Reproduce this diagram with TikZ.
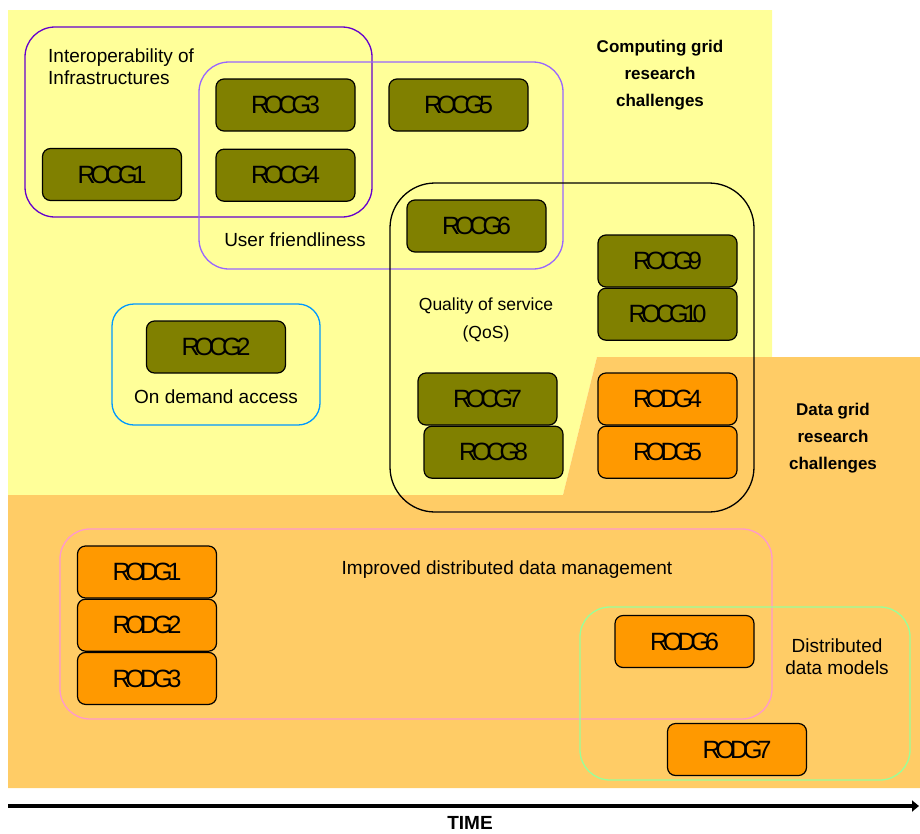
\documentclass[tikz,border=0pt]{standalone}
\usepackage{fontspec}
\setmainfont{Liberation Sans}
\newfontfamily\boxfont[LetterSpace=-20]{Liberation Sans}
\usepackage{tikz}
\usetikzlibrary{positioning, arrows.meta}
\definecolor{rcYellow}{HTML}{FFFF99}
\definecolor{rcOrange}{HTML}{FFCC66}
\definecolor{rcOlive}{HTML}{808000}
\definecolor{rcAmber}{HTML}{FF9900}
\definecolor{rcPurple}{HTML}{6600CC}
\definecolor{rcViolet}{HTML}{9966FF}
\definecolor{rcSky}{HTML}{0099FF}
\definecolor{rcPink}{HTML}{FF99CC}
\definecolor{rcMint}{HTML}{99FF99}
\tikzset{
    base/.style={
        align=center,
        inner sep=0pt
    },
    challenge/.style={
        base,
        rectangle,
        rounded corners=8pt,
        draw=black,
        line width=1.2pt,
        minimum width=139pt,
        minimum height=52pt,
        font=\boxfont\fontsize{25}{30}\selectfont
    },
    cgbox/.style={
        challenge,
        fill=rcOlive
    },
    dgbox/.style={
        challenge,
        fill=rcAmber
    },
    area/.style={
        line width=1.3pt
    },
    theme/.style={
        base,
        font=\fontsize{19}{22}\selectfont
    },
    heading/.style={
        base,
        font=\bfseries\fontsize{17}{27}\selectfont
    },
    timeline/.style={
        line width=4pt,
        -{Triangle[length=7pt, width=11pt]}
    }
}
\begin{document}
\begin{tikzpicture}[x=1pt, y=-1pt]
  \useasboundingbox (0,0) rectangle (920,833);

  % Computing grid area
  \fill[rcYellow] (8,10) -- (772,10) -- (772,357) -- (597,357) -- (563,495) -- (8,495) -- cycle;
  % Data grid area
  \fill[rcOrange] (8,495) -- (563,495) -- (597,357) -- (920,357) -- (920,788) -- (8,788) -- cycle;

  % Research themes
  \draw[area, draw=rcPurple, rounded corners=30pt] (25,27) rectangle (372,217);
  \draw[area, draw=rcViolet, rounded corners=30pt] (199,62) rectangle (563,269);
  \draw[area, draw=black, rounded corners=45pt] (390,183) rectangle (754,512);
  \draw[area, draw=rcSky, rounded corners=22pt] (112,304) rectangle (320,425);
  \draw[area, draw=rcPink, rounded corners=30pt] (60,529) rectangle (772,719);
  \draw[area, draw=rcMint, rounded corners=30pt] (580,607) rectangle (910,780);

  % Computing grid challenges
  \node[cgbox] (rocg1) at (112,174.5) {ROCG1};
  \node[cgbox] (rocg2) at (216,347) {ROCG2};
  \node[cgbox] (rocg3) at (285.5,105) {ROCG3};
  \node[cgbox, below=17pt of rocg3] (rocg4) {ROCG4};
  \node[cgbox] (rocg5) at (458.5,105) {ROCG5};
  \node[cgbox] (rocg6) at (476.5,226) {ROCG6};
  \node[cgbox] (rocg7) at (487.5,399) {ROCG7};
  \node[cgbox, below=0pt of rocg7, xshift=6pt] (rocg8) {ROCG8};
  \node[cgbox] (rocg9) at (667.5,261) {ROCG9};
  \node[cgbox, below=0pt of rocg9] (rocg10) {ROCG10};

  % Data grid challenges
  \node[dgbox] (rodg1) at (147,572) {RODG1};
  \node[dgbox, below=0pt of rodg1] (rodg2) {RODG2};
  \node[dgbox, below=0pt of rodg2] (rodg3) {RODG3};
  \node[dgbox] (rodg4) at (667.5,399) {RODG4};
  \node[dgbox, below=0pt of rodg4] (rodg5) {RODG5};
  \node[dgbox] (rodg6) at (684.5,641.5) {RODG6};
  \node[dgbox] (rodg7) at (737,749.5) {RODG7};

  % Theme labels
  \node[theme, align=left, anchor=west] (interoplbl) at (48,67) {Interoperability of\\Infrastructures};
  \node[theme] (userlbl) at (295,240) {User friendliness};
  \node[theme, font=\fontsize{17.5}{28}\selectfont] (qoslbl) at (486,320) {Quality of service\\(QoS)};
  \node[theme] (demandlbl) at (216,397) {On demand access};
  \node[theme] (mgmtlbl) at (507,570) {Improved distributed data management};
  \node[theme] (modellbl) at (837,657) {Distributed\\data models};

  % Titles
  \node[heading] (cgtitle) at (660,75) {Computing grid\\research\\challenges};
  \node[heading] (dgtitle) at (833,438) {Data grid\\research\\challenges};

  % Time axis
  \coordinate (tstart) at (8,806);
  \coordinate (tend) at (919,806);
  \draw[timeline] (tstart) -- (tend);
  \node[heading, font=\bfseries\fontsize{19}{22}\selectfont] (timelbl) at (470,823) {TIME};
\end{tikzpicture}
\end{document}
